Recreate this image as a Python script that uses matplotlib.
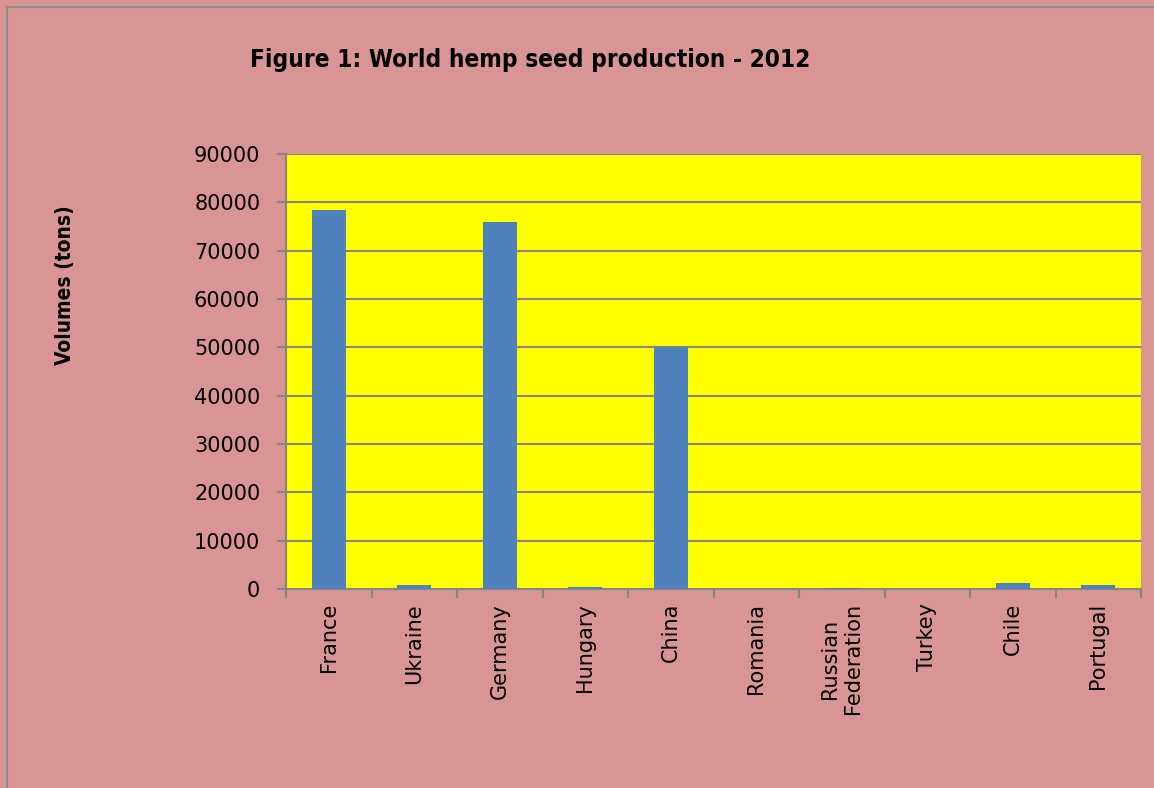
import matplotlib
matplotlib.use("Agg")
import matplotlib.pyplot as plt
import numpy as np
from matplotlib.patches import Rectangle

# data
countries = ["France", "Ukraine", "Germany", "Hungary", "China", "Romania",
             "Russian\nFederation", "Turkey", "Chile", "Portugal"]
volumes = [78500, 850, 76000, 500, 50000, 30, 200, 20, 1300, 850]
yticks = [0, 10000, 20000, 30000, 40000, 50000, 60000, 70000, 80000, 90000]

pink = "#D99594"
yellow = "#FFFF00"
blue = "#4F81BD"
grey = "#868686"

fig = plt.figure(figsize=(11.54, 7.88), dpi=100, facecolor=pink)
ax = fig.add_axes([286/1154, 1-589/788, (1141-286)/1154, (589-154)/788])
ax.set_facecolor(yellow)

x = np.arange(len(countries))
ax.bar(x, volumes, width=0.4, color=blue, zorder=3)

ax.set_xlim(-0.5, len(countries)-0.5)
ax.set_ylim(0, 90000)
ax.set_yticks(yticks)
ax.set_yticklabels([str(v) for v in yticks], fontsize=15)
ax.yaxis.grid(True, color=grey, linewidth=1.5, zorder=1)

# category labels between boundary ticks, Excel style
ax.set_xticks(np.arange(-0.5, len(countries)), minor=False)
ax.set_xticklabels([])
ax.set_xticks(x, minor=True)
ax.set_xticklabels(countries, minor=True, rotation=90, fontsize=15, va="top")
ax.tick_params(axis="x", which="minor", length=0, pad=10)
ax.tick_params(axis="x", which="major", length=6.5, width=1.5, color=grey)
ax.tick_params(axis="y", length=6.5, width=1.5, color=grey, pad=12)
for s in ["top", "right"]:
    ax.spines[s].set_visible(False)
for s in ["left", "bottom"]:
    ax.spines[s].set_color(grey)
    ax.spines[s].set_linewidth(1.5)

fig.text(530/1154, 1-60/788, "Figure 1: World hemp seed production - 2012",
         ha="center", va="center", fontsize=17.5, fontweight="bold",
         family="DejaVu Sans", fontstretch="condensed")
fig.text(65/1154, 1-285/788, "Volumes (tons)", rotation=90,
         ha="center", va="center", fontsize=15, fontweight="bold",
         family="DejaVu Sans", fontstretch="condensed")

# outer chart border
fig.patches.append(Rectangle((7/1154, -0.1), 1.2, 1-7/788+0.1,
                             transform=fig.transFigure, fill=False,
                             edgecolor="#8C8C8C", linewidth=1.5))

fig.savefig("out.png", dpi=100, facecolor=pink)
